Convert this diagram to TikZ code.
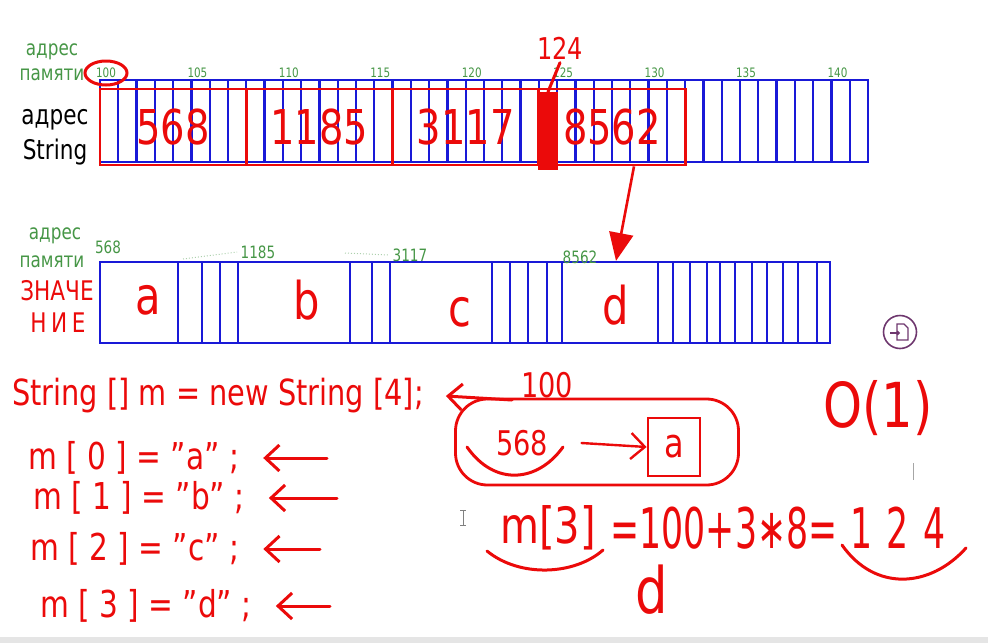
\documentclass[tikz,border=0pt]{standalone}
\usepackage{fontspec}
\setmainfont{DejaVu Sans}[FakeStretch=0.8]
\newfontfamily\handn{DejaVu Sans}[FakeStretch=0.62]
\usetikzlibrary{arrows.meta,positioning}
\definecolor{hred}{RGB}{235,10,10}
\definecolor{hblue}{RGB}{25,25,215}
\definecolor{hgreen}{RGB}{70,150,70}
\definecolor{iconviolet}{RGB}{110,55,110}
\newcommand\hsz[1]{\fontsize{#1}{#1}\selectfont}
\tikzset{
  bluebar/.style={hblue,line width=2.2pt},
  memrow/.style={draw=hblue,line width=2.2pt,inner sep=0pt},
  redline/.style={hred,line width=3pt,line cap=round},
  redarrow/.style={redline,-{Straight Barb[length=14pt,width=26pt]}},
  bigarrow/.style={hred,line width=2.6pt,-{Triangle[length=28pt,width=24pt]}},
  grpbox/.style={draw=hred,line width=2.8pt,text=hred,font=\hsz{48},inner sep=0pt,minimum width=146.3pt,minimum height=76pt},
  addr/.style={text=hgreen,font=\hsz{13}},
  addrbig/.style={text=hgreen,font=\hsz{17}},
  lblgreen/.style={text=hgreen,font=\hsz{21}},
  lblblack/.style={text=black,font=\hsz{27}},
  lblred/.style={text=hred,font=\hsz{27}},
  val/.style={text=hred,font=\hsz{52}},
  code/.style={text=hred,font=\hsz{37},anchor=west,inner sep=0pt},
  hw/.style={text=hred,font=\hsz{#1}},
}
\begin{document}
\begin{tikzpicture}[x=1pt,y=-1pt]
\useasboundingbox (0,0) rectangle (988,643);
\def\cw{18.286}
% row 1: addresses of the strings
\node[lblgreen] (adr1) at (52,52) {адрес};
\node[lblgreen] (mem1) at (52,75) {памяти};
\node[lblblack] (adr2) at (55,120) {адрес};
\node[lblblack] (str) at (55,152) {String};
\node[memrow,minimum width=768pt,minimum height=82pt] (bar1) at (484,121) {};
\foreach \i in {1,...,41}
  \draw[bluebar] ({100+\i*\cw},80) -- ({100+\i*\cw},162);
\foreach \a [evaluate=\a as \n using int(100+\a)] in {0,5,...,40}
  \node[addr] (a\n) at ({100+\a*\cw+6},73) {\n};
\draw[redline] (a100) ellipse (21 and 12);
\foreach \v [count=\k from 0] in {568,1185,3117,8562}
  \node[grpbox] (g\k) at ({100+(8*\k+4)*\cw},127) {\v};
\node[fill=hred,inner sep=0pt,minimum width=20pt,minimum height=78pt] (c124) at ({100+24.5*\cw},131) {};
\node[hw=30] (n124) at (560,48) {124};
\draw[redline] (n124.south) -- (c124.north);
% row 2: values
\node[lblgreen] (adr3) at (55,236) {адрес};
\node[lblgreen] (mem2) at (52,262) {памяти};
\node[lblred] (zn1) at (57,291) {ЗНАЧЕ};
\node[lblred] (zn2) at (58,323) {Н\,И\,Е};
\node[memrow,minimum width=730pt,minimum height=81pt] (bar2) at (465,302.5) {};
\foreach \x in {178,202,220,238,350,372,390,492,510,528,547,562,658,673,690,707,720,735,752,767,783,798,817}
  \draw[bluebar] (\x,262) -- (\x,343);
\node[val] (va) at (148,300) {a};
\node[val] (vb) at (307,300) {b};
\node[val] (vc) at (460,312) {c};
\node[val] (vd) at (616,305) {d};
\node[addrbig] (l568) at (108,247) {568};
\node[addrbig] (l1185) at (258,252) {1185};
\node[addrbig] (l3117) at (410,255) {3117};
\node[addrbig] (l8562) at (580,257) {8562};
\coordinate (dt1) at (183,259);
\coordinate (dt2) at (345,253);
\draw[hgreen!45,dotted,line width=1pt] (dt1) -- (l1185.west);
\draw[hgreen!45,dotted,line width=1pt] (dt2) -- (l3117.west);
\draw[bigarrow] ([xshift=22pt]g3.south) -- (bar2.north -| vd);
% code
\node[code,font=\hsz{36}] (L0) at (12,396) {String [] m = new String [4];};
\node[code] (L1) at (28,458) {m [ 0 ] = "a" ;};
\node[code] (L2) at (33,498) {m [ 1 ] = "b" ;};
\node[code] (L3) at (30,549) {m [ 2 ] = "c" ;};
\node[code] (L4) at (40,606) {m [ 3 ] = "d" ;};
\coordinate (t0) at (512,400);
\coordinate (t1) at (327,458);
\coordinate (t2) at (337,498);
\coordinate (t3) at (320,549);
\coordinate (t4) at (330,606);
\draw[redarrow] (t0) -- ([xshift=22pt]L0.east);
\draw[redarrow] (t1) -- ([xshift=24pt]L1.east);
\draw[redarrow] (t2) -- ([xshift=24pt]L2.east);
\draw[redarrow] (t3) -- ([xshift=24pt]L3.east);
\draw[redarrow] (t4) -- ([xshift=24pt]L4.east);
% the slot at 100
\node[hw=34] (n100) at (547,385) {100};
\node[draw=hred,line width=2.8pt,rounded corners=32pt,minimum width=283pt,minimum height=86pt] (slot) at (597,442) {};
\node[hw=34] (v568) at (522,443) {568};
\draw[redline] (467,447) .. controls (495,487) and (538,482) .. (563,447);
\node[draw=hred,line width=2.8pt,text=hred,font=\hsz{40},minimum width=52pt,minimum height=58pt,inner sep=0pt] (ba) at (674,447) {a};
\draw[redarrow,line width=2.4pt] ([xshift=30pt]v568.east) -- (ba.west);
% address arithmetic
\node[hw=50] (fm) at (548,528) {m[3]};
\node[text=hred,font=\handn\hsz{56}] (fq) at (724,528) {=100+3∗8=};
\node[text=hred,font=\handn\hsz{56}] (f124) at (898,528) {1\hspace{14pt}2\hspace{14pt}4};
\draw[redline] (487,551) .. controls (520,578) and (575,575) .. (603,550);
\draw[redline] (842,545) .. controls (875,592) and (930,588) .. (966,548);
\node[hw=64] (fd) at (652,590) {d};
\node[hw=62] (ord) at (878,408) {O(1)};
\draw[gray!70,line width=1pt] (913,463) -- (913,480);
% screen bits
\draw[gray,line width=1pt] (463,510) -- (463,525) (460,510) -- (466,510) (460,525) -- (466,525);
\node[draw=iconviolet,circle,line width=1.6pt,minimum size=33pt,inner sep=0pt] (icon) at (900,332) {};
\draw[iconviolet,line width=1.3pt] (897,324) -- (904,324) -- (908,328) -- (908,340) -- (897,340) -- cycle;
\draw[iconviolet,line width=1.3pt,-{Straight Barb[length=2pt,width=4pt]}] (890,333) -- (900,333);
\fill[gray!20] (0,637) rectangle (988,643);
\end{tikzpicture}
\end{document}
